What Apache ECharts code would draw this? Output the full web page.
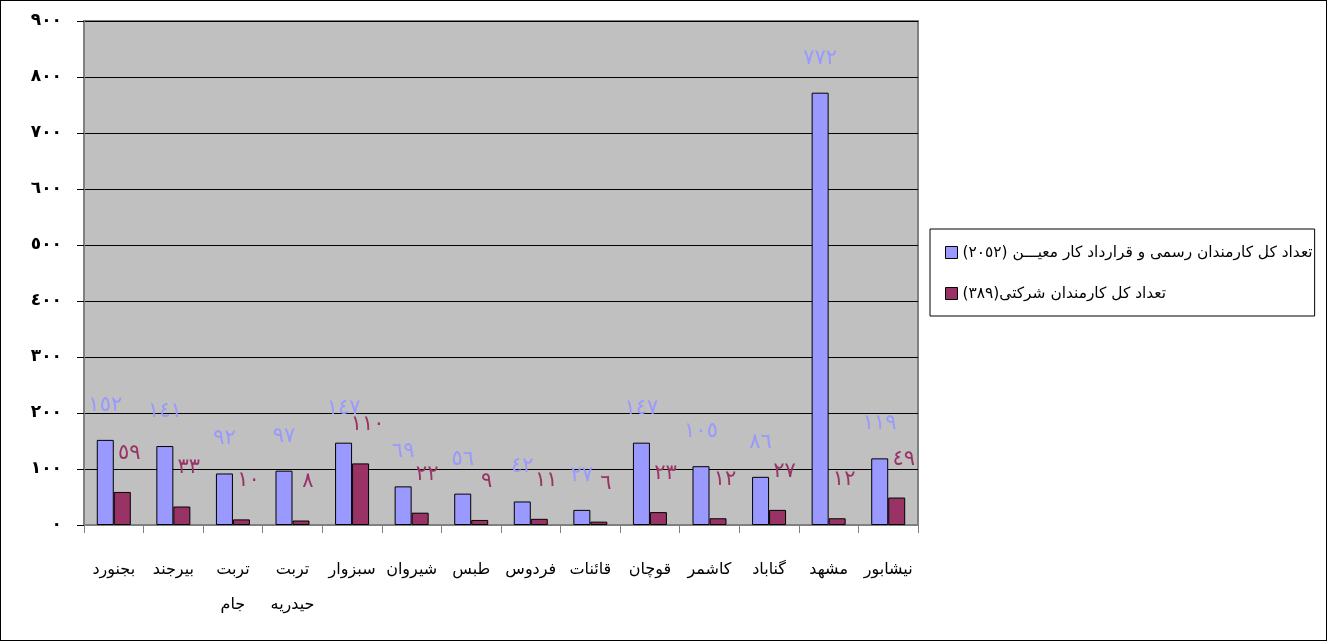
<!DOCTYPE html>
<html><head><meta charset="utf-8">
<script src="https://cdn.jsdelivr.net/npm/echarts@6/dist/echarts.min.js"></script>
<style>html,body{margin:0;padding:0;background:#fff}
#c{width:1325px;height:639px;border:1px solid #000;}
</style></head><body><div id="c"></div>
<script>
const categories = ['بجنورد','بیرجند','تربت\nجام','تربت\nحیدریه','سبزوار','شیروان','طبس','فردوس','قائنات','قوچان','کاشمر','گناباد','مشهد','نیشابور'];
const seriesNames = ['تعداد کل کارمندان رسمی و قرارداد کار معیـــن (٢٠٥٢)', 'تعداد کل کارمندان شرکتی(٣٨٩)'];
const officialStaff = [152, 141, 92, 97, 147, 69, 56, 42, 27, 147, 105, 86, 772, 119];
const contractStaff = [59, 33, 10, 8, 110, 22, 9, 11, 6, 23, 12, 27, 12, 49];
const yMin = 0, yMax = 900, yStep = 100;

const digits = '٠١٢٣٤٥٦٧٨٩';
const toArabic = n => String(n).replace(/\d/g, d => digits[d]);
const rtl = s => '\u200F' + s + '\u200F';
const FONT = 'DejaVu Sans';
const colors = ['#9999FF', '#993366'];

const chart = echarts.init(document.getElementById('c'));
chart.setOption({
  animation: false,
  textStyle: { fontFamily: FONT },
  grid: { left: 83, top: 20, width: 834, height: 504, show: true, backgroundColor: '#C0C0C0', borderColor: '#808080', borderWidth: 2 },
  legend: {
    orient: 'vertical', left: 929, top: 228,
    data: seriesNames,
    formatter: n => rtl(n),
    icon: 'rect', itemWidth: 12, itemHeight: 12, itemGap: 26,
    padding: [16, 2, 15, 15],
    borderColor: '#000', borderWidth: 1,
    textStyle: { fontFamily: FONT, fontSize: 15.4, color: '#000' },
    itemStyle: { borderColor: '#000', borderWidth: 1 }
  },
  xAxis: {
    type: 'category', data: categories,
    axisLine: { show: true, lineStyle: { color: '#808080', width: 2 } },
    axisTick: { show: true, length: 8, lineStyle: { color: '#808080' } },
    axisLabel: { interval: 0, fontFamily: FONT, fontSize: 16, color: '#000', lineHeight: 35, margin: 27 }
  },
  yAxis: {
    type: 'value', min: yMin, max: yMax, interval: yStep,
    axisLine: { show: true, lineStyle: { color: '#808080', width: 2 } },
    axisTick: { show: true, length: 7, lineStyle: { color: '#000' } },
    splitLine: { show: true, lineStyle: { color: '#000', width: 1 } },
    axisLabel: { formatter: v => toArabic(v), fontFamily: FONT, fontSize: 17, fontWeight: 'bold', color: '#000', margin: 22 }
  },
  series: [
    {
      name: seriesNames[0], type: 'bar', data: officialStaff, barWidth: 17, barGap: '0%',
      itemStyle: { color: colors[0], borderColor: '#000', borderWidth: 1 },
      label: { show: true, position: 'top', distance: 24, formatter: p => toArabic(p.value), color: colors[0], fontSize: 21, fontFamily: FONT }
    },
    {
      name: seriesNames[1], type: 'bar', data: contractStaff, barWidth: 17,
      itemStyle: { color: colors[1], borderColor: '#000', borderWidth: 1 },
      label: { show: true, position: 'top', distance: 28, offset: [7, 0], formatter: p => toArabic(p.value), color: colors[1], fontSize: 21, fontFamily: FONT }
    }
  ]
});
</script></body></html>
